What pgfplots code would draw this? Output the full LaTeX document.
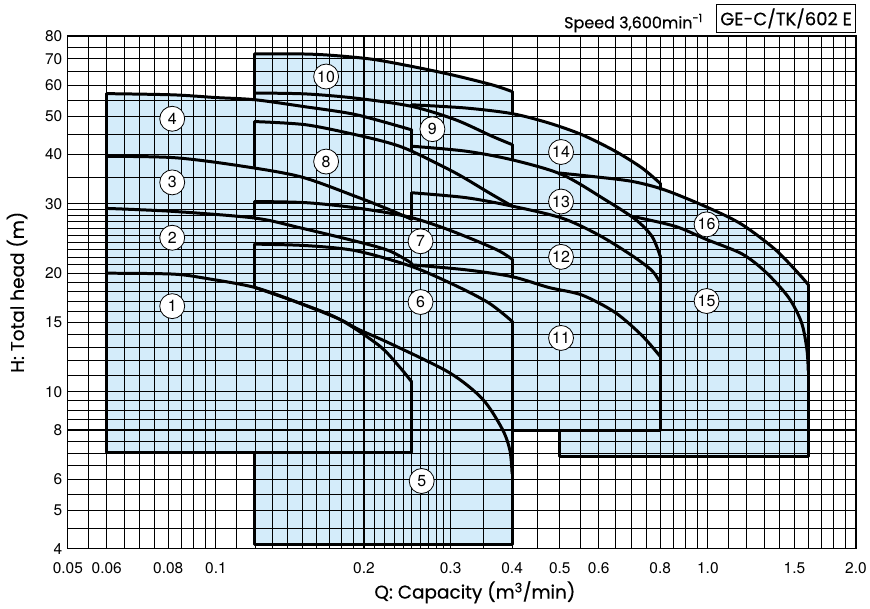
\documentclass[border=0pt]{standalone}
\usepackage{pgfplots}
\pgfplotsset{compat=1.18}
\usepackage{fontspec}
\setmainfont{Poppins}[FakeBold=0.4]
\newfontfamily\heros{TeX Gyre Heros}
\definecolor{regfill}{RGB}{212,236,250}
\pgfplotsset{
  pcurve/.style={line width=3pt, black, smooth, tension=0.5, line join=round, line cap=round, mark=none},
  pedge/.style={line width=3pt, black, sharp plot, line join=round, line cap=round, mark=none},
  pfill/.style={fill=regfill, draw=none, sharp plot, mark=none, on layer=axis background},
}
\tikzset{lab/.style={circle, draw=black, line width=0.8pt, fill=white, inner sep=0pt, minimum size=25pt, font=\heros\fontsize{16}{16}\selectfont}}
\begin{document}
\begin{tikzpicture}
\begin{axis}[
  set layers,
  scale only axis, width=790pt, height=514pt,
  xmode=log, ymode=log,
  xmin=0.05, xmax=2.0, ymin=4, ymax=80,
  xtick={0.05,0.06,0.08,0.1,0.2,0.3,0.4,0.5,0.6,0.8,1.0,1.5,2.0},
  xticklabels={0.05,0.06,0.08,0.1,0.2,0.3,0.4,0.5,0.6,0.8,1.0,1.5,2.0},
  ytick={4,5,6,8,10,15,20,30,40,50,60,70,80},
  yticklabels={4,5,6,8,10,15,20,30,40,50,60,70,80},
  minor xtick={0.055,0.065,0.07,0.075,0.085,0.09,0.095,0.11,0.12,0.13,0.14,0.15,0.16,0.17,0.18,0.19,0.21,0.22,0.23,0.24,0.25,0.26,0.27,0.28,0.29,0.35,0.45,0.55,0.65,0.7,0.75,0.85,0.9,0.95,1.1,1.2,1.3,1.4,1.6,1.7,1.8,1.9},
  minor ytick={4.5,5.5,6.5,7,7.5,8.5,9,9.5,11,12,13,14,16,17,18,19,21,22,23,24,25,26,27,28,29,35,45,55,65,75},
  grid=both,
  major grid style={black, line width=1.1pt},
  minor grid style={black, line width=0.7pt},
  major tick length=0pt, minor tick length=0pt,
  axis line style={black, line width=1.2pt},
  tick label style={font=\heros\fontsize{15.5}{15.5}\selectfont},
  xticklabel style={anchor=base, yshift=-25pt},
  yticklabel style={xshift=-2pt},
]
% ---------- fills ----------
\addplot[pfill] coordinates {(0.06,7) (0.25,7) (0.25,46.2) (0.1926,50.5) (0.15,53.0) (0.12,55.1) (0.1001,55.6) (0.0818,56.7) (0.06,57.1)} -- cycle;
\addplot[pfill] coordinates {(0.12,4.1) (0.4,4.1) (0.4,57.8) (0.3645,60.1) (0.3023,63.7) (0.2508,66.9) (0.208,69.8) (0.1726,71.4) (0.15,72.0) (0.12,72.0)} -- cycle;
\addplot[pfill] coordinates {(0.25,8) (0.8,8) (0.8,33.8) (0.7345,37.0) (0.648,40.8) (0.555,44.9) (0.475,48.1) (0.40,50.8) (0.322,52.5) (0.25,53.5)} -- cycle;
\addplot[pfill] coordinates {(0.5,6.85) (1.6,6.85) (1.6,18.7) (1.527,20.0) (1.369,23.0) (1.172,26.6) (1.003,29.3) (0.819,32.5) (0.7011,34.2) (0.5815,35.2) (0.5,35.9)} -- cycle;
% small uncovered sliver
\addplot[fill=white, draw=none, sharp plot, mark=none, on layer=axis background] coordinates {(0.233,28.3) (0.249,29.3) (0.249,27.5)} -- cycle;
% ---------- group A ----------
\addplot[pedge] coordinates {(0.25,10.6) (0.25,7) (0.06,7) (0.06,57.1)};
\addplot[pcurve] coordinates {(0.06,20.0) (0.0818,19.9) (0.0956,19.4) (0.12,18.4) (0.1478,16.8) (0.1781,15.3) (0.2147,13.1) (0.2357,11.6) (0.25,10.6)};
\addplot[pcurve] coordinates {(0.06,29.2) (0.0818,28.7) (0.12,27.6) (0.1478,26.1) (0.1926,24.1) (0.2250,22.8) (0.25,21.2)};
\addplot[pcurve] coordinates {(0.06,39.6) (0.0818,39.3) (0.1081,37.7) (0.1478,35.2) (0.1926,31.3) (0.2250,29.0) (0.25,27.4)};
\addplot[pcurve] coordinates {(0.06,57.1) (0.0818,56.7) (0.1001,55.8) (0.12,55.1) (0.15,53.0) (0.1926,50.5) (0.25,46.2)};
\addplot[pedge] coordinates {(0.25,46.2) (0.25,40.8)};
% ---------- group B ----------
\addplot[pcurve] coordinates {(0.12,18.4) (0.1478,16.8) (0.1781,15.3) (0.1950,14.4) (0.2250,13.3) (0.2977,11.2) (0.348,9.6) (0.382,8.05) (0.396,7.1) (0.40,6.2)};
\addplot[pedge] coordinates {(0.12,7) (0.12,4.1) (0.4,4.1) (0.4,15.1)};
\addplot[pedge] coordinates {(0.12,18.4) (0.12,23.7)};
\addplot[pcurve] coordinates {(0.12,23.7) (0.1524,23.5) (0.1926,22.8) (0.25,20.8) (0.3072,18.6) (0.359,16.8) (0.40,15.1)};
\addplot[pedge] coordinates {(0.12,27.6) (0.12,30.4)};
\addplot[pcurve] coordinates {(0.12,30.4) (0.1524,30.2) (0.1926,29.3) (0.2432,27.9) (0.2842,26.3) (0.3320,24.4) (0.3760,22.8) (0.40,21.7)};
\addplot[pedge] coordinates {(0.4,21.7) (0.4,19.5)};
\addplot[pedge] coordinates {(0.12,37.4) (0.12,48.5)};
\addplot[pcurve] coordinates {(0.12,48.5) (0.1524,47.6) (0.1926,44.9) (0.2250,42.8) (0.25,40.8) (0.3072,35.9) (0.359,32.0) (0.40,29.6)};
\addplot[pcurve] coordinates {(0.12,57.3) (0.1524,57.0) (0.1926,55.6) (0.25,53.0) (0.3072,49.0) (0.3645,44.5) (0.40,42.4)};
\addplot[pedge] coordinates {(0.4,42.4) (0.4,38.9)};
\addplot[pedge] coordinates {(0.12,55.1) (0.12,72.0)};
\addplot[pcurve] coordinates {(0.12,72.0) (0.15,72.0) (0.1726,71.4) (0.208,69.8) (0.2508,66.9) (0.3023,63.7) (0.3645,60.1) (0.40,57.8)};
\addplot[pedge] coordinates {(0.4,57.8) (0.4,51.0)};
% ---------- group C ----------
\addplot[pedge] coordinates {(0.4,8.0) (0.8,8.0) (0.8,22.1)};
\addplot[pcurve] coordinates {(0.25,21.0) (0.322,20.4) (0.40,19.6) (0.475,18.4) (0.555,17.6) (0.648,15.9) (0.7345,13.9) (0.8,12.3)};
\addplot[pedge] coordinates {(0.25,27.4) (0.25,32.0)};
\addplot[pcurve] coordinates {(0.25,32.0) (0.322,31.1) (0.40,29.6) (0.505,27.6) (0.60,25.0) (0.70,22.2) (0.77,20.3) (0.8,18.9)};
\addplot[pedge] coordinates {(0.25,40.8) (0.25,42.0)};
\addplot[pcurve] coordinates {(0.25,42.0) (0.322,40.8) (0.40,38.8) (0.505,35.6) (0.619,30.7) (0.712,27.4) (0.77,24.8) (0.8,22.1)};
\addplot[pedge] coordinates {(0.25,53.0) (0.25,53.5)};
\addplot[pcurve] coordinates {(0.25,53.5) (0.322,52.5) (0.40,50.8) (0.475,48.1) (0.555,44.9) (0.648,40.8) (0.7345,37.0) (0.8,33.8)};
\addplot[pedge] coordinates {(0.8,33.8) (0.8,32.6)};
% ---------- group D ----------
\addplot[pedge] coordinates {(0.5,8.0) (0.5,6.85) (1.6,6.85) (1.6,18.7)};
\addplot[pedge] coordinates {(0.5,35.6) (0.5,35.9)};
\addplot[pcurve] coordinates {(0.5,35.9) (0.5815,35.2) (0.7011,34.2) (0.819,32.5) (1.003,29.3) (1.172,26.6) (1.369,23.0) (1.527,20.0) (1.6,18.7)};
\addplot[pcurve] coordinates {(0.70,27.9) (0.8585,26.3) (0.99,24.4) (1.172,22.4) (1.307,20.2) (1.457,17.4) (1.55,15.0) (1.59,12.8) (1.6,11.3)};
% ---------- labels ----------
\node[lab] at (axis cs:0.0815,16.5) {1};
\node[lab] at (axis cs:0.0815,24.6) {2};
\node[lab] at (axis cs:0.0815,34.0) {3};
\node[lab] at (axis cs:0.0815,49.3) {4};
\node[lab] at (axis cs:0.262,5.94) {5};
\node[lab] at (axis cs:0.2606,16.9) {6};
\node[lab] at (axis cs:0.2606,24.1) {7};
\node[lab] at (axis cs:0.1675,38.4) {8};
\node[lab] at (axis cs:0.2755,46.4) {9};
\node[lab] at (axis cs:0.1675,63.1) {10};
\node[lab] at (axis cs:0.503,13.7) {11};
\node[lab] at (axis cs:0.503,22.0) {12};
\node[lab] at (axis cs:0.503,30.4) {13};
\node[lab] at (axis cs:0.503,40.6) {14};
\node[lab] at (axis cs:0.994,17.0) {15};
\node[lab] at (axis cs:0.994,26.6) {16};
\end{axis}
\node[anchor=base, font=\fontsize{18.5}{18.5}\selectfont] at ([xshift=13pt,yshift=-50pt]current axis.south) {Q: Capacity (m\textsuperscript{3}/min)};
\node[anchor=base, rotate=90, font=\fontsize{18.5}{18.5}\selectfont] at ([xshift=-44pt]current axis.west) {H: Total head (m)};
\node[draw=black, line width=1.2pt, anchor=south east, minimum height=28pt, inner xsep=3.5pt, font=\fontsize{18}{18}\selectfont] (box) at ([yshift=3pt]current axis.north east) {GE-C/TK/602 E};
\node[anchor=base east, font=\fontsize{16}{16}\selectfont] at ([xshift=-10pt,yshift=-3pt]box.base west) {Speed 3,600min\textsuperscript{-1}};
\path ([xshift=-68pt,yshift=-60pt]current axis.south west) rectangle ([xshift=12pt,yshift=36pt]current axis.north east);
\end{tikzpicture}
\end{document}
